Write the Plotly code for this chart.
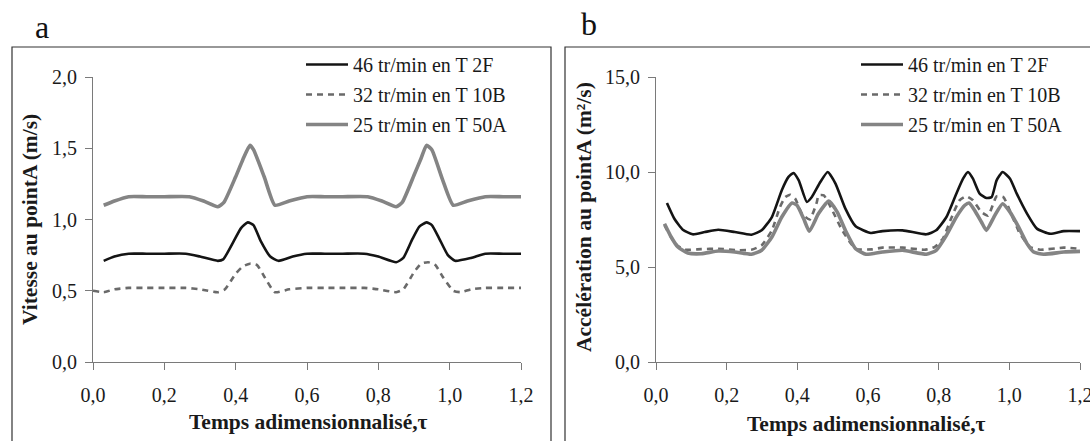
import plotly.graph_objects as go

# ---------------- data: panel a (vitesse, m/s) ----------------
v46_x = [0.03, 0.06, 0.10, 0.15, 0.20, 0.26, 0.30, 0.35, 0.365, 0.395, 0.415, 0.434, 0.45, 0.47, 0.497, 0.52,
         0.56, 0.60, 0.65, 0.70, 0.76, 0.80, 0.85, 0.87, 0.895, 0.915, 0.935, 0.95, 0.97, 0.995, 1.015,
         1.06, 1.10, 1.15, 1.20]
v46_y = [0.71, 0.74, 0.76, 0.76, 0.76, 0.76, 0.74, 0.71, 0.72, 0.85, 0.94, 0.98, 0.96, 0.85, 0.74, 0.71,
         0.74, 0.76, 0.76, 0.76, 0.76, 0.74, 0.70, 0.73, 0.86, 0.95, 0.98, 0.96, 0.87, 0.75, 0.71,
         0.73, 0.76, 0.76, 0.76]

v32_x = [0.0, 0.03, 0.06, 0.10, 0.15, 0.20, 0.26, 0.30, 0.35, 0.37, 0.40, 0.42, 0.44, 0.46, 0.48, 0.51,
         0.55, 0.60, 0.65, 0.70, 0.76, 0.80, 0.85, 0.87, 0.90, 0.92, 0.94, 0.96, 0.98, 1.01, 1.03,
         1.06, 1.10, 1.15, 1.20]
v32_y = [0.50, 0.49, 0.51, 0.52, 0.52, 0.52, 0.52, 0.51, 0.49, 0.51, 0.62, 0.67, 0.69, 0.68, 0.60, 0.49,
         0.51, 0.52, 0.52, 0.52, 0.52, 0.51, 0.49, 0.51, 0.63, 0.69, 0.70, 0.68, 0.60, 0.50, 0.49,
         0.51, 0.52, 0.52, 0.52]

v25_x = [0.03, 0.06, 0.10, 0.15, 0.20, 0.27, 0.31, 0.35, 0.367, 0.40, 0.42, 0.44, 0.45, 0.48, 0.51,
         0.55, 0.60, 0.65, 0.70, 0.77, 0.81, 0.85, 0.867, 0.90, 0.92, 0.935, 0.95, 0.98, 1.01,
         1.05, 1.10, 1.15, 1.20]
v25_y = [1.10, 1.13, 1.16, 1.16, 1.16, 1.16, 1.13, 1.09, 1.12, 1.30, 1.42, 1.52, 1.49, 1.30, 1.10,
         1.13, 1.16, 1.16, 1.16, 1.16, 1.13, 1.09, 1.12, 1.31, 1.43, 1.52, 1.49, 1.28, 1.10,
         1.13, 1.16, 1.16, 1.16]

# ---------------- data: panel b (accélération) ----------------
a46_x = [0.031, 0.052, 0.076, 0.104, 0.138, 0.176, 0.223, 0.27, 0.299, 0.328, 0.356, 0.375, 0.389, 0.404,
         0.427, 0.441, 0.465, 0.486, 0.508, 0.536, 0.565, 0.608, 0.641, 0.698, 0.765, 0.793, 0.822,
         0.85, 0.869, 0.883, 0.897, 0.916, 0.935, 0.95, 0.964, 0.981, 1.002, 1.021, 1.05, 1.078,
         1.116, 1.154, 1.20]
a46_y = [8.37, 7.54, 6.96, 6.72, 6.84, 6.96, 6.84, 6.70, 6.93, 7.63, 9.04, 9.74, 9.95, 9.56,
         8.42, 8.68, 9.47, 10.0, 9.39, 8.07, 7.14, 6.79, 6.89, 6.93, 6.72, 6.93, 7.63,
         8.86, 9.65, 10.0, 9.65, 8.86, 8.63, 8.68, 9.56, 10.0, 9.65, 8.86, 7.81, 7.02,
         6.75, 6.89, 6.89]

a32_x = [0.024, 0.043, 0.062, 0.081, 0.128, 0.176, 0.233, 0.27, 0.299, 0.328, 0.351, 0.366, 0.38, 0.394,
         0.413, 0.435, 0.455, 0.46, 0.475, 0.499, 0.527, 0.565, 0.612, 0.641, 0.698, 0.76, 0.788,
         0.812, 0.835, 0.859, 0.878, 0.897, 0.921, 0.94, 0.964, 0.983, 1.007, 1.03, 1.059, 1.087,
         1.154, 1.20]
a32_y = [7.20, 6.55, 6.10, 5.91, 5.94, 5.96, 5.88, 5.91, 6.14, 6.93, 8.16, 8.68, 8.80, 8.60,
         7.80, 7.50, 8.40, 8.77, 8.77, 7.98, 6.93, 5.96, 5.93, 6.02, 6.02, 5.91, 6.05,
         6.49, 7.54, 8.51, 8.72, 8.51, 7.89, 7.70, 8.72, 8.68, 7.72, 6.75, 6.05, 5.91,
         6.02, 5.96]

a25_x = [0.024, 0.043, 0.062, 0.09, 0.128, 0.176, 0.223, 0.27, 0.299, 0.328, 0.356, 0.385, 0.399, 0.418,
         0.434, 0.46, 0.489, 0.513, 0.536, 0.565, 0.594, 0.641, 0.698, 0.765, 0.793, 0.822, 0.85,
         0.874, 0.886, 0.902, 0.921, 0.935, 0.959, 0.981, 1.002, 1.026, 1.05, 1.069, 1.097, 1.154,
         1.20]
a25_y = [7.28, 6.58, 6.05, 5.74, 5.70, 5.84, 5.79, 5.67, 5.88, 6.58, 7.63, 8.37, 8.25, 7.54,
         6.88, 7.81, 8.47, 7.89, 6.93, 5.96, 5.67, 5.79, 5.88, 5.67, 5.88, 6.67, 7.63,
         8.25, 8.37, 7.98, 7.37, 6.93, 7.72, 8.33, 7.89, 7.11, 6.23, 5.79, 5.67, 5.79,
         5.82]

names = ["46 tr/min en T 2F", "32 tr/min en T 10B", "25 tr/min en T 50A"]
x_ticks = [0.0, 0.2, 0.4, 0.6, 0.8, 1.0, 1.2]
v_ticks = [0.0, 0.5, 1.0, 1.5, 2.0]
a_ticks = [0.0, 5.0, 10.0, 15.0]
x_title = "Temps adimensionnalisé,τ"
v_title = "Vitesse au pointA (m/s)"
a_title = "Accélération au pointA (m²/s)"

W, H = 1090, 441
def px(x): return x / W
def py(y): return 1 - y / H

styles = [
    dict(color="#141414", width=2.6, shape="spline", smoothing=0.5),
    dict(color="#6a6a6a", width=2.6, dash="6px,5px", shape="spline", smoothing=0.5),
    dict(color="#848484", width=3.6, shape="spline", smoothing=0.5),
]

fig = go.Figure()
for (xs, ys), nm, st, g in zip([(v46_x, v46_y), (v32_x, v32_y), (v25_x, v25_y)], names, styles, "abc"):
    fig.add_trace(go.Scatter(x=xs, y=ys, mode="lines", name=nm, line=st, xaxis="x", yaxis="y",
                             legend="legend", legendgroup="L" + g))
for (xs, ys), nm, st, g in zip([(a46_x, a46_y), (a32_x, a32_y), (a25_x, a25_y)], names, styles, "abc"):
    fig.add_trace(go.Scatter(x=xs, y=ys, mode="lines", name=nm, line=st, xaxis="x2", yaxis="y2",
                             legend="legend2", legendgroup="R" + g))

serif = "Liberation Serif"
ink = "#1a1a1a"
tickfont = dict(family=serif, size=20, color=ink)
titlefont = dict(family=serif, size=21.5, color=ink, weight="bold")
axcommon = dict(showline=True, linecolor="#7a7a7a", linewidth=1, ticks="outside", ticklen=7,
                tickcolor="#7a7a7a", showgrid=False, zeroline=False, tickfont=tickfont,
                tickformat=".1f", automargin=False, ticklabeloverflow="allow")
xax = dict(ticklabelstandoff=8, **axcommon)
yax = dict(ticklabelstandoff=4, **axcommon)

def ann(text, x, y, font, angle=0):
    return dict(text=text, x=px(x), y=py(y), xref="paper", yref="paper", showarrow=False,
                xanchor="center", yanchor="middle", textangle=angle, font=font)

ybot, ytop = py(362), py(77)
legfont = dict(family=serif, size=20, color=ink)
fig.update_layout(
    width=W, height=H, margin=dict(l=0, r=0, t=0, b=0, autoexpand=False),
    paper_bgcolor="white", plot_bgcolor="white",
    separators=", ",
    xaxis=dict(domain=[px(93), px(521)], range=[0, 1.2], tickvals=x_ticks, anchor="y", **xax),
    yaxis=dict(domain=[ybot, ytop], range=[0, 2.0], tickvals=v_ticks, anchor="x", **yax),
    xaxis2=dict(domain=[px(656), px(1080)], range=[0, 1.2], tickvals=x_ticks, anchor="y2", **xax),
    yaxis2=dict(domain=[ybot, ytop], range=[0, 15.0], tickvals=a_ticks, anchor="x2", **yax),
    legend=dict(x=px(301), y=py(45), xanchor="left", yanchor="top", bgcolor="rgba(0,0,0,0)",
                font=legfont, tracegroupgap=1, itemwidth=42),
    legend2=dict(x=px(856), y=py(45), xanchor="left", yanchor="top", bgcolor="rgba(0,0,0,0)",
                 font=legfont, tracegroupgap=1, itemwidth=42),
    showlegend=True,
    shapes=[
        dict(type="rect", xref="paper", yref="paper", x0=px(12), x1=px(551), y0=-0.1, y1=py(47),
             line=dict(color="#333333", width=1.2)),
        dict(type="rect", xref="paper", yref="paper", x0=px(565), x1=1.05, y0=-0.1, y1=py(47),
             line=dict(color="#333333", width=1.2)),
    ],
    annotations=[
        ann("a", 42, 27, dict(family=serif, size=32, color="#111")),
        ann("b", 589, 24, dict(family=serif, size=32, color="#111")),
        ann(x_title, 308, 422, titlefont),
        ann(x_title, 866, 424, titlefont),
        ann(v_title, 30, 220, titlefont, -90),
        ann(a_title, 584, 217, titlefont, -90),
    ],
)

fig.write_html("out.html", config={"displayModeBar": False},
               post_script="document.body.style.margin='0';document.body.style.overflow='hidden';")
